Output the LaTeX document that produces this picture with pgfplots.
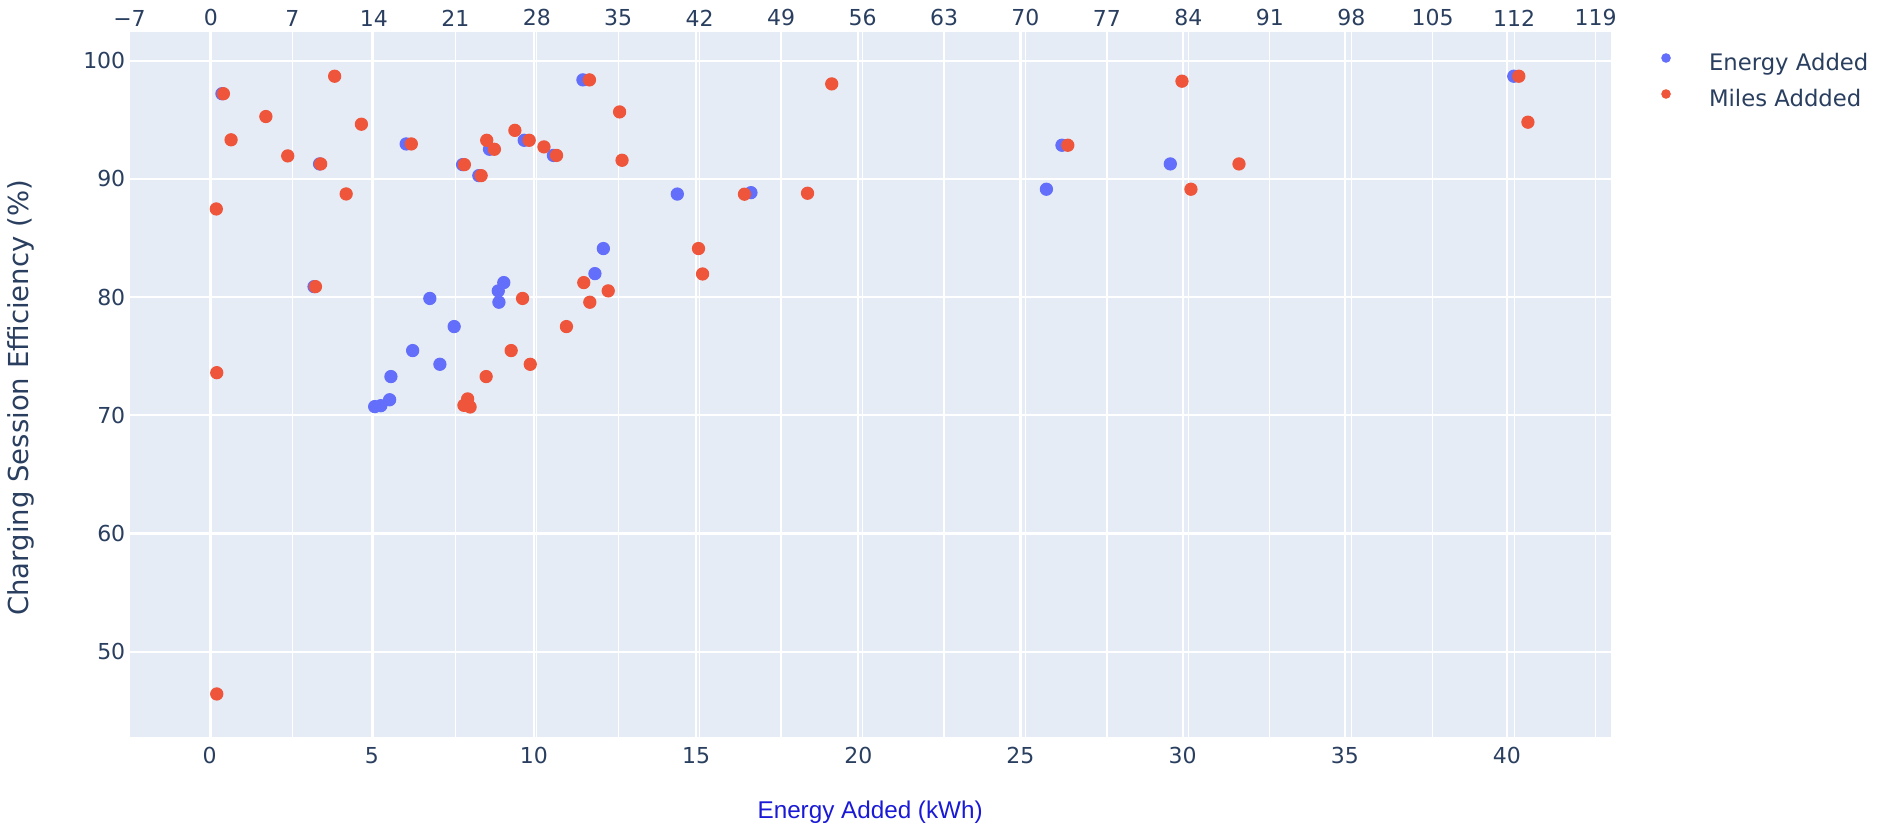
\documentclass[border=0pt]{standalone}
\usepackage{fontspec}
\setmainfont{DejaVu Sans}
\newfontfamily\labelfont{Liberation Sans}
\usepackage{pgfplots}
\pgfplotsset{compat=1.18}
\definecolor{plotbg}{HTML}{E5ECF6}
\definecolor{plotblue}{HTML}{636EFA}
\definecolor{plotred}{HTML}{EF553B}
\definecolor{ticktext}{HTML}{2A3F5F}
\definecolor{xlabblue}{HTML}{1A1AD6}

\pgfplotsset{
  base/.style={
    width=592.5pt, height=281.8pt, scale only axis,
    ymin=42.8, ymax=102.4,
    axis line style={draw=none},
    tick style={draw=none},
    ticklabel style={font=\fontsize{8.8}{10}\selectfont, text=ticktext},
    /pgf/number format/assume math mode=true,
  },
  topx/.style={xmin=-7, xmax=120.3},
  botx/.style={xmin=-2.47, xmax=43.2},
}

\begin{document}
\begin{tikzpicture}
% top axis: background, miles grid and labels
\begin{axis}[base, topx,
    axis background/.style={fill=plotbg},
    axis x line*=top,
    xtick={-7,0,...,119},
    xticklabels={−7,0,7,14,21,28,35,42,49,56,63,70,77,84,91,98,105,112,119},
    xmajorgrids, x grid style={white, line width=0.5pt},
    ytick=\empty,
    xticklabel style={anchor=center, inner sep=0pt, yshift=5.7pt},
]
\end{axis}
% bottom axis: kWh grid, efficiency grid, energy points
\begin{axis}[base, botx,
    xtick={0,5,...,40}, ytick={50,60,...,100},
    grid=major, grid style={white, line width=0.85pt},
    xticklabel style={anchor=center, inner sep=0pt, yshift=-7.5pt},
    yticklabel style={anchor=east, inner sep=0pt, xshift=-1.5pt},
    xlabel={Energy Added (kWh)},
    ylabel={Charging Session Efficiency (\%)},
    every axis x label/.style={at={([yshift=-30pt]axis description cs:0.5,0)}, anchor=center,
      inner sep=0pt, font=\labelfont\fontsize{9.7}{11}\selectfont, text=xlabblue},
    every axis y label/.style={at={([xshift=-43.4pt]axis description cs:0,0.481)}, anchor=center,
      inner sep=0pt, rotate=90, font=\fontsize{11}{13}\selectfont, text=ticktext},
]
\addplot[only marks, mark=*, mark size=2.45pt, color=plotblue] table {
x y
11.51 98.37
6.06 92.95
8.63 92.50
9.70 93.26
14.42 88.71
16.69 88.83
12.14 84.10
11.88 81.98
6.79 79.88
7.54 77.50
6.26 75.47
7.10 74.31
5.59 73.27
9.07 81.22
8.90 80.52
8.92 79.56
5.55 71.31
5.09 70.73
5.28 70.81
26.28 92.84
29.62 91.26
25.80 89.12
40.21 98.68
3.22 80.88
7.80 91.20
8.30 90.27
10.60 91.98
3.39 91.26
0.38 97.20
};
\end{axis}
% top axis again: miles points and legend
\begin{axis}[base, topx,
    axis x line*=top, xtick=\empty, ytick=\empty,
    legend style={at={(axis description cs:1,1)}, anchor=north west,
      xshift=20.2pt, yshift=-7.2pt, draw=none, fill=none, inner sep=0pt,
      row sep=3.4pt, font=\fontsize{9.1}{11}\selectfont, text=ticktext,
      nodes={inner sep=1pt, text height=7pt, text depth=2pt},
      /tikz/every odd column/.append style={column sep=14.5pt}},
    legend cell align=left,
    legend image code/.code={\draw[#1, mark size=1.7pt] plot coordinates {(0pt,2.6pt)};},
]
\addlegendimage{only marks, mark=*, mark size=2.45pt, color=plotblue}
\addlegendentry{Energy Added}
\addplot[only marks, mark=*, mark size=2.45pt, color=plotred] table {
x y
1.07 97.20
4.72 95.27
1.73 93.30
6.60 91.94
9.43 91.26
10.63 98.68
12.93 94.62
11.62 88.72
0.46 87.45
8.98 80.88
0.50 73.60
0.50 46.42
17.22 92.95
21.78 91.20
23.22 90.27
23.70 93.26
24.36 92.50
26.12 94.10
27.35 93.26
28.62 92.70
29.70 91.98
32.53 98.37
35.12 95.66
35.33 91.57
41.90 84.10
42.25 81.95
32.04 81.22
32.56 79.56
34.14 80.52
26.78 79.88
30.55 77.50
25.80 75.47
27.44 74.31
23.65 73.27
22.06 71.38
21.74 70.84
22.27 70.70
45.85 88.70
51.27 88.78
53.35 98.03
83.45 98.26
73.64 92.84
88.35 91.26
84.22 89.12
112.40 98.68
113.18 94.79
};
\addlegendentry{Miles Addded}
\coordinate (pl) at (rel axis cs:0,0);
\coordinate (pr) at (rel axis cs:1,1);
\end{axis}
\path ([xshift=-51.8pt,yshift=-35.3pt]pl) rectangle ([xshift=107.3pt,yshift=12.9pt]pr);
\end{tikzpicture}
\end{document}
